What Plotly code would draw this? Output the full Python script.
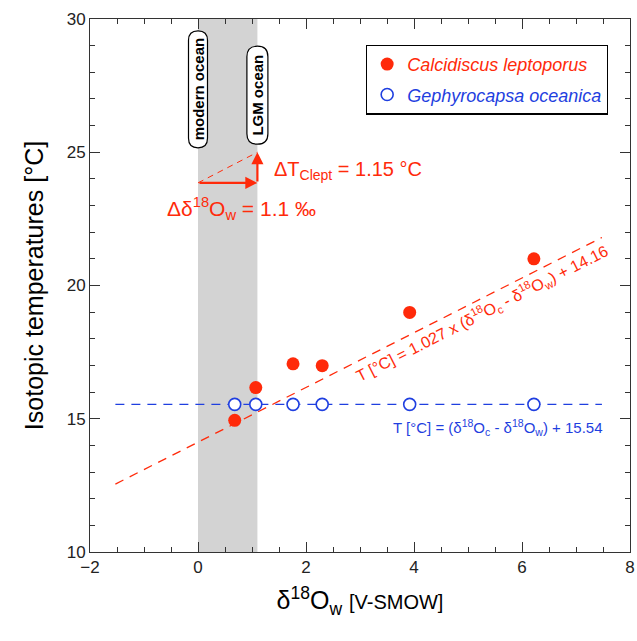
import plotly.graph_objects as go

# Water isotope composition (δ18Ow) and isotopic temperatures of the two species
d18o_w = [0.68, 1.07, 1.76, 2.30, 3.92, 6.22]
t_leptoporus = [14.94, 16.17, 17.06, 16.99, 18.99, 21.00]
t_oceanica = [15.54, 15.54, 15.54, 15.54, 15.54, 15.54]

# Calibration lines (slope, intercept) and their plotted x extent
lep_slope, lep_intercept = 1.027, 14.12
oce_slope, oce_intercept = 0.0, 15.54
line_x = [-1.53, 7.48]

# Glacial–interglacial shift
modern_d18o = 0.0
lgm_shift = 1.1
dT_clept = 1.15
arrow_base_t = 23.85

RED = "#ff2a0a"
BLUE = "#1f3fe0"
FONT = "Arial, Liberation Sans, sans-serif"

# plot box in pixels, used to size rounded label boxes
PX_X = 540 / 10.0
PX_Y = 533 / 20.0

fig = go.Figure()

fig.add_trace(go.Scatter(
    x=line_x, y=[lep_slope * v + lep_intercept for v in line_x],
    mode="lines", line=dict(color=RED, width=1.3, dash="9px,7px"),
    showlegend=False, hoverinfo="skip"))
fig.add_trace(go.Scatter(
    x=line_x, y=[oce_slope * v + oce_intercept for v in line_x],
    mode="lines", line=dict(color=BLUE, width=1.3, dash="9px,7px"),
    showlegend=False, hoverinfo="skip"))

# dashed diagonal of the shift triangle
fig.add_trace(go.Scatter(
    x=[modern_d18o, modern_d18o + lgm_shift],
    y=[arrow_base_t, arrow_base_t + dT_clept],
    mode="lines", line=dict(color=RED, width=1, dash="6px,5px"),
    showlegend=False, hoverinfo="skip"))

fig.add_trace(go.Scatter(
    x=d18o_w, y=t_leptoporus, mode="markers",
    name=f"<span style='color:{RED}'><i>Calcidiscus leptoporus</i></span>",
    legendgroup="a",
    marker=dict(symbol="circle", size=13, color=RED, line=dict(width=0))))
fig.add_trace(go.Scatter(
    x=d18o_w, y=t_oceanica, mode="markers",
    name=f"<span style='color:{BLUE}'><i>Gephyrocapsa oceanica</i></span>",
    legendgroup="b",
    marker=dict(symbol="circle", size=12, color="white",
                line=dict(color=BLUE, width=1.6))))

shapes = [dict(type="rect", xref="x", yref="y", x0=modern_d18o,
               x1=modern_d18o + lgm_shift, y0=10, y1=30,
               fillcolor="#d3d3d3", line=dict(width=0), layer="below")]


def pill(cx, cy, wpx, hpx):
    rx = wpx / 2 / PX_X
    ry = wpx / 2 / PX_Y
    top = cy + hpx / 2 / PX_Y
    bot = cy - hpx / 2 / PX_Y
    return (f"M {cx - rx} {bot + ry} L {cx - rx} {top - ry} "
            f"Q {cx - rx} {top} {cx} {top} Q {cx + rx} {top} {cx + rx} {top - ry} "
            f"L {cx + rx} {bot + ry} Q {cx + rx} {bot} {cx} {bot} "
            f"Q {cx - rx} {bot} {cx - rx} {bot + ry} Z")


for cx, cy, w, h in [(modern_d18o, 27.36, 19, 117),
                     (modern_d18o + lgm_shift, 27.14, 21, 98)]:
    shapes.append(dict(type="path", xref="x", yref="y", path=pill(cx, cy, w, h),
                       fillcolor="white", line=dict(color="black", width=1.2),
                       layer="above"))

annotations = [
    dict(x=modern_d18o, y=27.36, text="<b>modern ocean</b>", textangle=-90,
         showarrow=False, font=dict(family=FONT, size=15, color="black")),
    dict(x=modern_d18o + lgm_shift, y=27.14, text="<b>LGM ocean</b>", textangle=-90,
         showarrow=False, font=dict(family=FONT, size=15, color="black")),
    # shift arrows
    dict(x=modern_d18o + lgm_shift, y=arrow_base_t, ax=modern_d18o, ay=arrow_base_t,
         xref="x", yref="y", axref="x", ayref="y", text="", showarrow=True,
         arrowhead=2, arrowsize=1.1, arrowwidth=2.2, arrowcolor=RED, standoff=0),
    dict(x=modern_d18o + lgm_shift, y=arrow_base_t + dT_clept,
         ax=modern_d18o + lgm_shift, ay=arrow_base_t,
         xref="x", yref="y", axref="x", ayref="y", text="", showarrow=True,
         arrowhead=2, arrowsize=1.1, arrowwidth=2.2, arrowcolor=RED, standoff=0),
    dict(x=1.37, y=24.3, xanchor="left",
         text=f"ΔT<sub>Clept</sub> = {dT_clept:.2f} °C", showarrow=False,
         font=dict(family=FONT, size=20, color=RED)),
    dict(x=-0.62, y=22.9, xanchor="left",
         text=f"Δδ<sup>18</sup>O<sub>w</sub> = {lgm_shift:.1f} ‰", showarrow=False,
         font=dict(family=FONT, size=21, color=RED)),
    dict(x=5.27, y=18.95, textangle=-27,
         text=f"T [°C] = {lep_slope} x (δ<sup>18</sup>O<sub>c</sub> - δ<sup>18</sup>O<sub>w</sub>) + 14.16",
         showarrow=False, font=dict(family=FONT, size=16, color=RED)),
    dict(x=5.55, y=14.66,
         text=f"T [°C] = (δ<sup>18</sup>O<sub>c</sub> - δ<sup>18</sup>O<sub>w</sub>) + {oce_intercept:.2f}",
         showarrow=False, font=dict(family=FONT, size=15, color=BLUE)),
]

axis_common = dict(
    showline=True, linecolor="#333333", linewidth=1, mirror="ticks",
    ticks="inside", ticklen=10, tickwidth=1, tickcolor="#333333",
    showgrid=False, zeroline=False, automargin=False,
    tickfont=dict(family=FONT, size=17, color="#222222"),
)

fig.update_layout(
    width=637, height=641,
    margin=dict(l=90, r=7, t=19, b=89),
    plot_bgcolor="white", paper_bgcolor="white",
    font=dict(family=FONT),
    xaxis=dict(range=[-2, 8], dtick=2, tick0=-2,
               minor=dict(dtick=0.5, ticks="inside", ticklen=5, tickcolor="#333333"),
               title=dict(text="δ<sup>18</sup>O<sub>w</sub> <span style='font-size:20px'>[V-SMOW]</span>",
                          font=dict(family=FONT, size=25, color="black")),
               **axis_common),
    yaxis=dict(range=[10, 30], dtick=5, tick0=10,
               minor=dict(dtick=1, ticks="inside", ticklen=5, tickcolor="#333333"),
               title=dict(text="Isotopic temperatures [°C]",
                          font=dict(family=FONT, size=25, color="black")),
               **axis_common),
    legend=dict(x=0.959, y=0.952, xanchor="right", yanchor="top",
                bgcolor="white", bordercolor="black", borderwidth=1.3,
                tracegroupgap=4, traceorder="grouped",
                font=dict(family=FONT, size=18), itemwidth=30),
    shapes=shapes, annotations=annotations,
)

fig.write_html("out.html")
